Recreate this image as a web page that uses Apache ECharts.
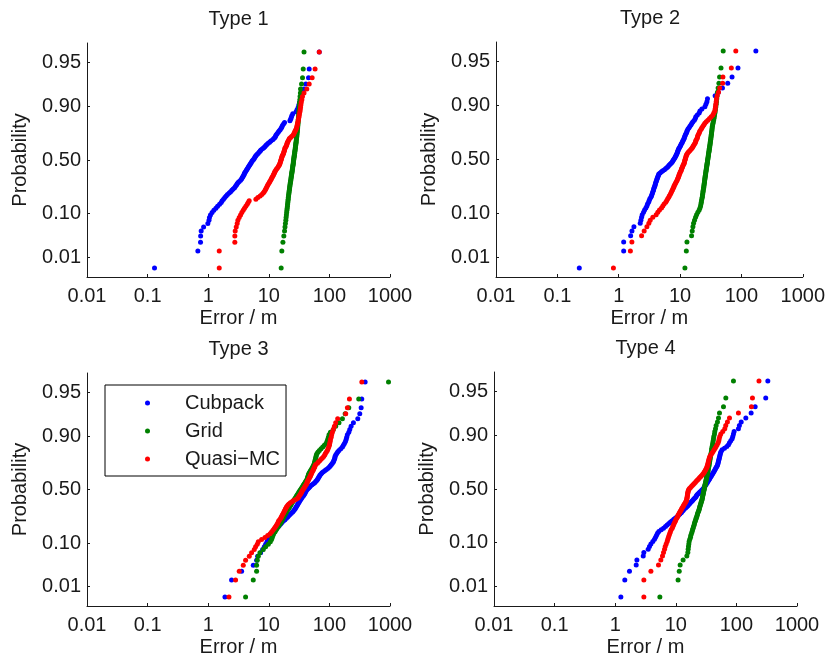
<!DOCTYPE html>
<html>
<head>
<meta charset="utf-8">
<title>Error probability plots</title>
<script src="https://cdn.jsdelivr.net/npm/echarts@6/dist/echarts.min.js"></script>
<style>
    html, body { margin: 0; padding: 0; background: #fff; }
    #chart { width: 828px; height: 659px; }
</style>
</head>
<body>
<div id="chart"></div>
<script>
// methods and panels
var methods = ['Cubpack', 'Grid', 'Quasi\u2212MC'];
var panelTitles = ['Type 1', 'Type 2', 'Type 3', 'Type 4'];
var probTicks = [0.01, 0.10, 0.50, 0.90, 0.99];
var probLabels = ['0.01', '0.10', '0.50', '0.90', '0.95'];

// sorted errors (m), 100 runs per method
var cubpackType1 = [0.13, 0.675, 0.747, 0.75, 0.766, 0.84, 0.987, 1.03, 1.05, 1.09,
    1.16, 1.24, 1.34, 1.43, 1.54, 1.64, 1.70, 1.79, 1.88, 1.98,
    2.08, 2.22, 2.34, 2.46, 2.58, 2.72, 2.82, 2.93, 3.01, 3.12,
    3.25, 3.42, 3.55, 3.64, 3.73, 3.83, 3.92, 3.97, 4.07, 4.18,
    4.29, 4.40, 4.51, 4.63, 4.75, 4.87, 4.99, 5.12, 5.25, 5.39,
    5.60, 5.74, 5.89, 6.04, 6.20, 6.44, 6.69, 6.95, 7.21, 7.40,
    7.87, 8.27, 8.60, 8.93, 9.28, 9.75, 10.3, 10.8, 11.6, 12.1,
    12.6, 12.9, 13.2, 13.7, 14.3, 14.8, 15.4, 16.0, 16.4, 16.8,
    17.5, 18.2, 22.3, 22.9, 23.5, 24.0, 24.9, 28.2, 29.3, 30.5,
    31.3, 32.1, 33.4, 35.1, 36.4, 38.1, 40.9, 45.2, 46.4, 68];
var gridType1 = [16.0, 16.4, 17.1, 17.7, 18.2, 18.5, 18.8, 19.1, 19.3, 19.5,
    19.7, 19.9, 20.1, 20.3, 20.4, 20.6, 20.7, 20.9, 21.0, 21.2,
    21.3, 21.5, 21.6, 21.8, 21.9, 22.1, 22.2, 22.4, 22.5, 22.7,
    22.9, 23.0, 23.2, 23.3, 23.5, 23.6, 23.8, 23.9, 24.1, 24.2,
    24.4, 24.5, 24.7, 24.8, 25.0, 25.1, 25.3, 25.4, 25.5, 25.6,
    25.8, 25.9, 26.1, 26.2, 26.4, 26.5, 26.7, 26.8, 27.0, 27.1,
    27.3, 27.4, 27.6, 27.7, 27.9, 28.0, 28.2, 28.3, 28.5, 28.6,
    28.8, 28.9, 29.1, 29.2, 29.4, 29.5, 29.7, 29.8, 30.0, 30.1,
    30.3, 30.4, 30.6, 30.7, 30.9, 31.0, 31.2, 31.4, 31.6, 31.8,
    32.0, 32.2, 32.5, 32.8, 33.2, 33.4, 34.7, 36.0, 37.0, 38.1];
var quasiType1 = [1.52, 1.52, 2.75, 2.75, 2.79, 2.90, 3.01, 3.09, 3.25, 3.42,
    3.59, 3.78, 3.97, 4.18, 4.40, 4.57, 4.75, 6.12, 6.60, 7.20,
    7.67, 8.10, 8.40, 8.70, 8.90, 9.15, 9.40, 9.60, 9.90, 10.2,
    10.4, 10.7, 11.0, 11.2, 11.5, 11.8, 12.0, 12.3, 12.5, 12.7,
    13.1, 13.4, 13.9, 14.3, 14.6, 15.0, 15.2, 15.4, 15.6, 15.8,
    16.0, 16.2, 16.4, 16.6, 16.8, 17.3, 17.5, 17.7, 18.0, 18.2,
    18.4, 18.6, 19.1, 19.6, 19.8, 20.1, 20.3, 20.9, 21.4, 21.9,
    22.9, 24.0, 25.3, 25.9, 26.6, 27.2, 27.9, 28.6, 29.0, 29.3,
    29.7, 30.1, 30.5, 30.9, 31.3, 31.7, 32.1, 32.6, 33.0, 33.4,
    33.8, 34.3, 35.1, 35.9, 38.1, 42.4, 46.4, 51.9, 58.0, 68.0];

var cubpackType2 = [0.228, 1.205, 1.205, 1.565, 1.645, 1.77, 2.24, 2.30, 2.36, 2.42,
    2.54, 2.64, 2.77, 2.88, 2.95, 3.07, 3.14, 3.22, 3.34, 3.43,
    3.49, 3.56, 3.63, 3.69, 3.74, 3.81, 3.88, 3.93, 3.98, 4.03,
    4.11, 4.18, 4.23, 4.31, 4.37, 4.45, 4.51, 4.73, 4.98, 5.23,
    5.57, 5.85, 6.15, 6.38, 6.62, 6.88, 7.14, 7.41, 7.60, 7.79,
    7.98, 8.19, 8.39, 8.55, 8.71, 8.87, 9.04, 9.16, 9.27, 9.44,
    9.62, 9.86, 10.1, 10.3, 10.5, 10.8, 11.0, 11.2, 11.5, 11.7,
    11.9, 12.1, 12.3, 12.7, 12.9, 13.1, 13.5, 14.0, 14.5, 15.1,
    15.6, 16.2, 17.1, 17.7, 18.1, 19.1, 20.5, 21.1, 22.7, 25.4,
    26.4, 27.4, 28.0, 37.3, 42.0, 49.1, 59.9, 70.4, 88.0, 172];
var gridType2 = [12.0, 12.65, 12.95, 15.4, 15.8, 16.2, 16.6, 17.2, 17.9, 18.6,
    19.5, 20.5, 21.1, 21.6, 21.9, 22.2, 22.4, 22.7, 23.0, 23.2,
    23.3, 23.6, 23.7, 23.9, 24.2, 24.3, 24.5, 24.6, 24.8, 25.0,
    25.1, 25.3, 25.4, 25.6, 25.7, 25.9, 26.1, 26.2, 26.4, 26.5,
    26.7, 26.9, 27.0, 27.2, 27.4, 27.5, 27.7, 27.9, 28.0, 28.2,
    28.4, 28.5, 28.7, 28.9, 29.0, 29.2, 29.4, 29.6, 29.8, 29.9,
    30.1, 30.3, 30.5, 30.7, 30.9, 31.0, 31.2, 31.4, 31.6, 31.8,
    32.0, 32.2, 32.4, 32.6, 32.8, 33.0, 33.2, 33.4, 33.6, 34.0,
    34.4, 34.8, 35.2, 35.7, 36.1, 36.5, 37.0, 37.4, 37.8, 38.3,
    38.8, 39.3, 39.7, 40.2, 40.7, 41.7, 43.0, 44.1, 46.5, 50.5];
var quasiType2 = [0.82, 1.55, 1.64, 2.36, 2.60, 2.88, 3.10, 3.26, 3.60, 4.08,
    4.34, 4.62, 4.98, 5.23, 5.50, 5.85, 6.07, 6.30, 6.54, 6.71,
    6.96, 7.14, 7.32, 7.50, 7.69, 7.89, 7.98, 8.19, 8.39, 8.60,
    8.82, 9.04, 9.16, 9.39, 9.51, 9.63, 9.74, 10.0, 10.1, 10.4,
    10.5, 10.6, 10.9, 11.0, 11.2, 11.5, 11.6, 11.8, 11.9, 12.0,
    12.2, 12.3, 12.5, 12.6, 12.8, 13.1, 13.5, 14.0, 14.5, 15.1,
    15.6, 16.0, 16.4, 16.8, 17.3, 17.7, 18.0, 18.1, 18.6, 19.1,
    19.3, 19.5, 20.0, 20.5, 20.8, 21.3, 22.2, 22.7, 23.6, 24.5,
    25.4, 26.7, 28.4, 30.2, 32.2, 34.2, 35.5, 36.9, 37.3, 37.8,
    38.3, 38.8, 39.2, 40.2, 42.3, 44.3, 49.5, 50.0, 68.5, 81.0];

var cubpackType3 = [1.89, 2.43, 3.56, 5.54, 6.29, 6.54, 7.33, 7.91, 8.43, 8.87,
    9.33, 9.81, 10.1, 10.6, 11.1, 11.9, 12.6, 13.5, 14.2, 14.9,
    15.7, 16.5, 17.4, 18.5, 19.5, 20.5, 21.3, 22.4, 23.5, 24.8,
    25.7, 26.7, 27.4, 28.1, 28.8, 29.6, 30.3, 31.1, 31.9, 32.7,
    33.6, 34.4, 35.3, 36.7, 37.6, 38.6, 39.6, 40.1, 41.2, 42.2,
    43.8, 45.5, 47.3, 49.1, 51.7, 54.4, 57.2, 59.4, 61.7, 63.4,
    65.0, 66.6, 68.4, 70.1, 72.8, 75.6, 79.6, 84.8, 89.2, 95.1,
    100, 104, 108, 112, 116, 118, 121, 123, 124, 127,
    132, 137, 144, 154, 164, 170, 177, 184, 189, 193,
    198, 209, 217, 228, 249, 294, 317, 334, 342, 389];
var gridType3 = [4.14, 5.54, 6.29, 6.29, 6.45, 6.71, 7.14, 8.11, 8.87, 9.81,
    10.6, 11.1, 11.4, 11.7, 12.0, 12.6, 13.1, 13.6, 14.2, 14.7,
    15.3, 15.9, 16.3, 16.7, 17.1, 17.6, 18.0, 18.5, 19.0, 19.5,
    20.0, 20.7, 21.3, 21.8, 22.4, 23.0, 23.5, 24.1, 24.8, 25.7,
    26.4, 27.1, 27.8, 28.5, 29.2, 30.0, 30.7, 31.5, 32.3, 33.2,
    34.0, 34.9, 35.8, 36.7, 37.6, 38.6, 39.6, 40.6, 41.7, 42.8,
    43.3, 43.8, 44.4, 45.0, 45.5, 46.7, 47.9, 49.1, 50.4, 51.7,
    53.0, 54.4, 55.8, 56.5, 57.2, 57.9, 58.7, 59.4, 60.2, 60.9,
    62.5, 65.0, 68.4, 72.8, 77.6, 82.6, 88.1, 91.5, 93.8, 96.3,
    98.7, 104, 116, 127, 144, 164, 182, 209, 305, 945];
var quasiType3 = [2.20, 2.83, 3.25, 3.79, 4.14, 4.76, 5.20, 5.76, 6.06, 6.45,
    6.71, 7.61, 8.64, 9.57, 10.5, 11.1, 11.7, 12.3, 12.8, 13.3,
    13.8, 14.2, 14.5, 15.1, 15.7, 16.1, 16.5, 16.9, 17.4, 17.8,
    18.2, 18.7, 19.0, 19.5, 20.0, 20.7, 21.5, 22.7, 24.1, 25.7,
    27.8, 29.6, 30.7, 31.5, 32.3, 33.2, 34.0, 34.9, 35.3, 36.2,
    37.2, 38.1, 39.1, 40.1, 41.2, 42.2, 42.8, 43.3, 44.4, 45.5,
    46.1, 47.3, 48.5, 49.1, 50.4, 51.0, 52.3, 53.7, 54.4, 55.8,
    57.2, 57.9, 59.4, 63.4, 65.8, 69.2, 72.8, 76.6, 80.6, 83.7,
    85.9, 89.2, 92.7, 95.1, 97.5, 100, 101, 103, 104, 107,
    109, 112, 116, 121, 127, 137, 186, 198, 214, 343];

var cubpackType4 = [1.24, 1.44, 1.72, 2.22, 2.28, 2.90, 2.97, 3.50, 3.68, 3.88,
    4.18, 4.45, 4.63, 4.81, 4.99, 5.25, 5.74, 6.27, 6.76, 7.20,
    7.68, 8.18, 8.71, 9.28, 9.89, 10.5, 11.1, 11.7, 12.3, 12.7,
    13.2, 13.7, 14.5, 15.2, 15.8, 16.4, 17.0, 17.7, 18.4, 19.1,
    19.8, 20.6, 21.4, 21.9, 22.5, 23.4, 24.3, 25.2, 26.5, 27.6,
    28.6, 29.4, 30.1, 30.9, 31.7, 32.5, 33.3, 34.2, 35.1, 36.0,
    36.9, 37.8, 38.8, 39.8, 40.8, 41.9, 42.9, 44.0, 45.2, 46.3,
    47.5, 48.7, 49.3, 50.0, 50.6, 51.2, 51.9, 52.6, 53.2, 53.9,
    54.6, 56.0, 58.2, 63.6, 69.5, 74.0, 76.9, 80.8, 85.0, 87.2,
    89.4, 91.7, 108, 112, 120, 143, 175, 204, 305, 330];
var gridType4 = [5.46, 10.9, 11.4, 11.8, 13.2, 15.2, 15.8, 16.0, 16.2, 16.4,
    16.6, 17.0, 17.5, 17.7, 18.2, 18.6, 18.9, 19.3, 19.6, 20.1,
    20.3, 20.6, 21.1, 21.4, 21.7, 22.2, 22.5, 22.8, 23.1, 23.7,
    24.0, 24.3, 24.6, 24.9, 25.2, 25.6, 25.9, 26.2, 26.5, 26.9,
    27.2, 27.4, 27.6, 27.9, 28.1, 28.3, 28.6, 28.8, 29.0, 29.4,
    29.5, 29.7, 30.1, 30.3, 30.5, 30.9, 31.1, 31.3, 31.7, 31.9,
    32.1, 32.5, 32.7, 32.9, 33.3, 33.6, 33.8, 34.2, 34.4, 34.6,
    35.1, 35.3, 35.5, 36.0, 36.2, 36.4, 36.9, 37.1, 37.4, 37.8,
    38.3, 38.8, 39.0, 39.3, 39.8, 40.3, 40.8, 41.4, 41.9, 42.4,
    43.5, 44.0, 45.2, 46.3, 48.7, 50.6, 52.6, 61.2, 66.9, 89.4];
var quasiType4 = [2.97, 2.97, 3.88, 5.18, 5.66, 6.03, 6.27, 6.52, 6.69, 6.94,
    7.20, 7.37, 7.56, 7.76, 7.96, 8.17, 8.38, 8.71, 8.93, 9.16,
    9.40, 9.64, 9.89, 10.1, 10.4, 10.7, 10.9, 11.2, 11.5, 11.8,
    12.1, 12.4, 12.7, 13.1, 13.4, 13.7, 14.1, 14.5, 14.8, 15.0,
    15.2, 15.3, 15.4, 15.5, 15.6, 15.7, 15.8, 15.9, 16.1, 16.4,
    16.8, 17.5, 18.2, 18.9, 19.6, 20.3, 21.1, 21.9, 22.8, 23.7,
    24.6, 25.6, 26.5, 27.6, 28.6, 29.4, 30.1, 30.9, 31.7, 32.5,
    32.9, 33.3, 33.8, 34.2, 34.6, 35.1, 35.5, 36.0, 36.9, 38.3,
    39.8, 41.3, 42.9, 44.6, 46.3, 48.1, 50.0, 51.2, 51.9, 53.2,
    55.3, 59.6, 64.3, 66.7, 71.1, 76.9, 108, 177, 184, 236];

var errors = [
    [cubpackType1, gridType1, quasiType1],
    [cubpackType2, gridType2, quasiType2],
    [cubpackType3, gridType3, quasiType3],
    [cubpackType4, gridType4, quasiType4]
];

// layout
var colors = ['#0000ff', '#008000', '#ff0000'];
var panels = [
    { left: 87, top: 43, width: 303, height: 234 },
    { left: 496, top: 42, width: 308, height: 235 },
    { left: 87, top: 373, width: 303, height: 233 },
    { left: 494, top: 372, width: 303, height: 234 }
];
var zLimit = 2.79;
var fontFamily = 'Liberation Sans, Arial, Helvetica, sans-serif';
var ink = '#1a1a1a';

// inverse normal cdf (Acklam), used for the probability axis
function norminv(p) {
    var a = [-3.969683028665376e+01, 2.209460984245205e+02, -2.759285104469687e+02,
        1.383577518672690e+02, -3.066479806614716e+01, 2.506628277459239e+00];
    var b = [-5.447609879822406e+01, 1.615858368580409e+02, -1.556989798598866e+02,
        6.680131188771972e+01, -1.328068155288572e+01];
    var c = [-7.784894002430293e-03, -3.223964580411365e-01, -2.400758277161838e+00,
        -2.549732539343734e+00, 4.374664141464968e+00, 2.938163982698783e+00];
    var d = [7.784695709041462e-03, 3.224671290700398e-01, 2.445134137142996e+00,
        3.754408661907416e+00];
    var plow = 0.02425, q, r;
    if (p < plow) {
        q = Math.sqrt(-2 * Math.log(p));
        return (((((c[0] * q + c[1]) * q + c[2]) * q + c[3]) * q + c[4]) * q + c[5]) /
            ((((d[0] * q + d[1]) * q + d[2]) * q + d[3]) * q + 1);
    }
    if (p > 1 - plow) {
        q = Math.sqrt(-2 * Math.log(1 - p));
        return -(((((c[0] * q + c[1]) * q + c[2]) * q + c[3]) * q + c[4]) * q + c[5]) /
            ((((d[0] * q + d[1]) * q + d[2]) * q + d[3]) * q + 1);
    }
    q = p - 0.5;
    r = q * q;
    return (((((a[0] * r + a[1]) * r + a[2]) * r + a[3]) * r + a[4]) * r + a[5]) * q /
        (((((b[0] * r + b[1]) * r + b[2]) * r + b[3]) * r + b[4]) * r + 1);
}

var zTicks = probTicks.map(norminv);

function probLabel(val) {
    for (var i = 0; i < zTicks.length; i++) {
        if (Math.abs(val - zTicks[i]) < 1e-6) {
            return probLabels[i];
        }
    }
    return '';
}

function errLabel(val) {
    // plain numbers, no thousands separator
    return String(parseFloat(Number(val).toPrecision(6)));
}

var grids = [], xAxes = [], yAxes = [], titles = [], series = [];

for (var p = 0; p < panels.length; p++) {
    grids.push(panels[p]);
    titles.push({
        text: panelTitles[p],
        left: panels[p].left + panels[p].width / 2,
        top: panels[p].top - 34,
        textAlign: 'center',
        padding: 0,
        textStyle: { fontSize: 20, fontWeight: 'normal', color: ink, fontFamily: fontFamily }
    });
    xAxes.push({
        type: 'log',
        logBase: 10,
        gridIndex: p,
        min: 0.01,
        max: 1000,
        name: 'Error / m',
        nameLocation: 'middle',
        nameGap: 31,
        nameTextStyle: { fontSize: 20, color: ink, fontFamily: fontFamily },
        axisLine: { onZero: false, lineStyle: { color: ink, width: 1 } },
        axisTick: { inside: true, length: 3, lineStyle: { color: ink } },
        axisLabel: { fontSize: 20, color: ink, margin: 9, fontFamily: fontFamily, formatter: errLabel },
        splitLine: { show: false },
        minorTick: { show: false }
    });
    yAxes.push({
        type: 'value',
        gridIndex: p,
        min: -zLimit,
        max: zLimit,
        name: 'Probability',
        nameLocation: 'middle',
        nameGap: 57,
        nameTextStyle: { fontSize: 20, color: ink, fontFamily: fontFamily },
        axisLine: { onZero: false, lineStyle: { color: ink, width: 1 } },
        axisTick: { inside: true, length: 3, customValues: zTicks, lineStyle: { color: ink } },
        axisLabel: {
            fontSize: 20, color: ink, margin: 6, fontFamily: fontFamily,
            customValues: zTicks,
            formatter: probLabel
        },
        splitLine: { show: false }
    });
    for (var m = 0; m < methods.length; m++) {
        var vals = errors[p][m];
        var n = vals.length;
        series.push({
            name: methods[m],
            type: 'scatter',
            xAxisIndex: p,
            yAxisIndex: p,
            symbol: 'circle',
            symbolSize: 5,
            itemStyle: { color: colors[m], opacity: 1 },
            emphasis: { disabled: true },
            data: vals.map(function (v, i) {
                return [v, norminv((i + 0.5) / n)];
            })
        });
    }
}

var myChart = echarts.init(document.getElementById('chart'), null, { renderer: 'canvas' });

option = {
    animation: false,
    backgroundColor: '#fff',
    title: titles,
    legend: {
        data: methods,
        orient: 'vertical',
        left: 105,
        top: 385,
        padding: [7, 6, 6, 40],
        icon: 'circle',
        itemWidth: 65,
        itemHeight: 5,
        itemGap: 6,
        selectedMode: false,
        backgroundColor: '#fff',
        borderColor: '#000',
        borderWidth: 1,
        borderRadius: 0,
        itemStyle: { opacity: 1 },
        textStyle: { fontSize: 20, lineHeight: 22, color: ink, fontFamily: fontFamily }
    },
    grid: grids,
    xAxis: xAxes,
    yAxis: yAxes,
    series: series
};

myChart.setOption(option, true);
</script>
</body>
</html>
